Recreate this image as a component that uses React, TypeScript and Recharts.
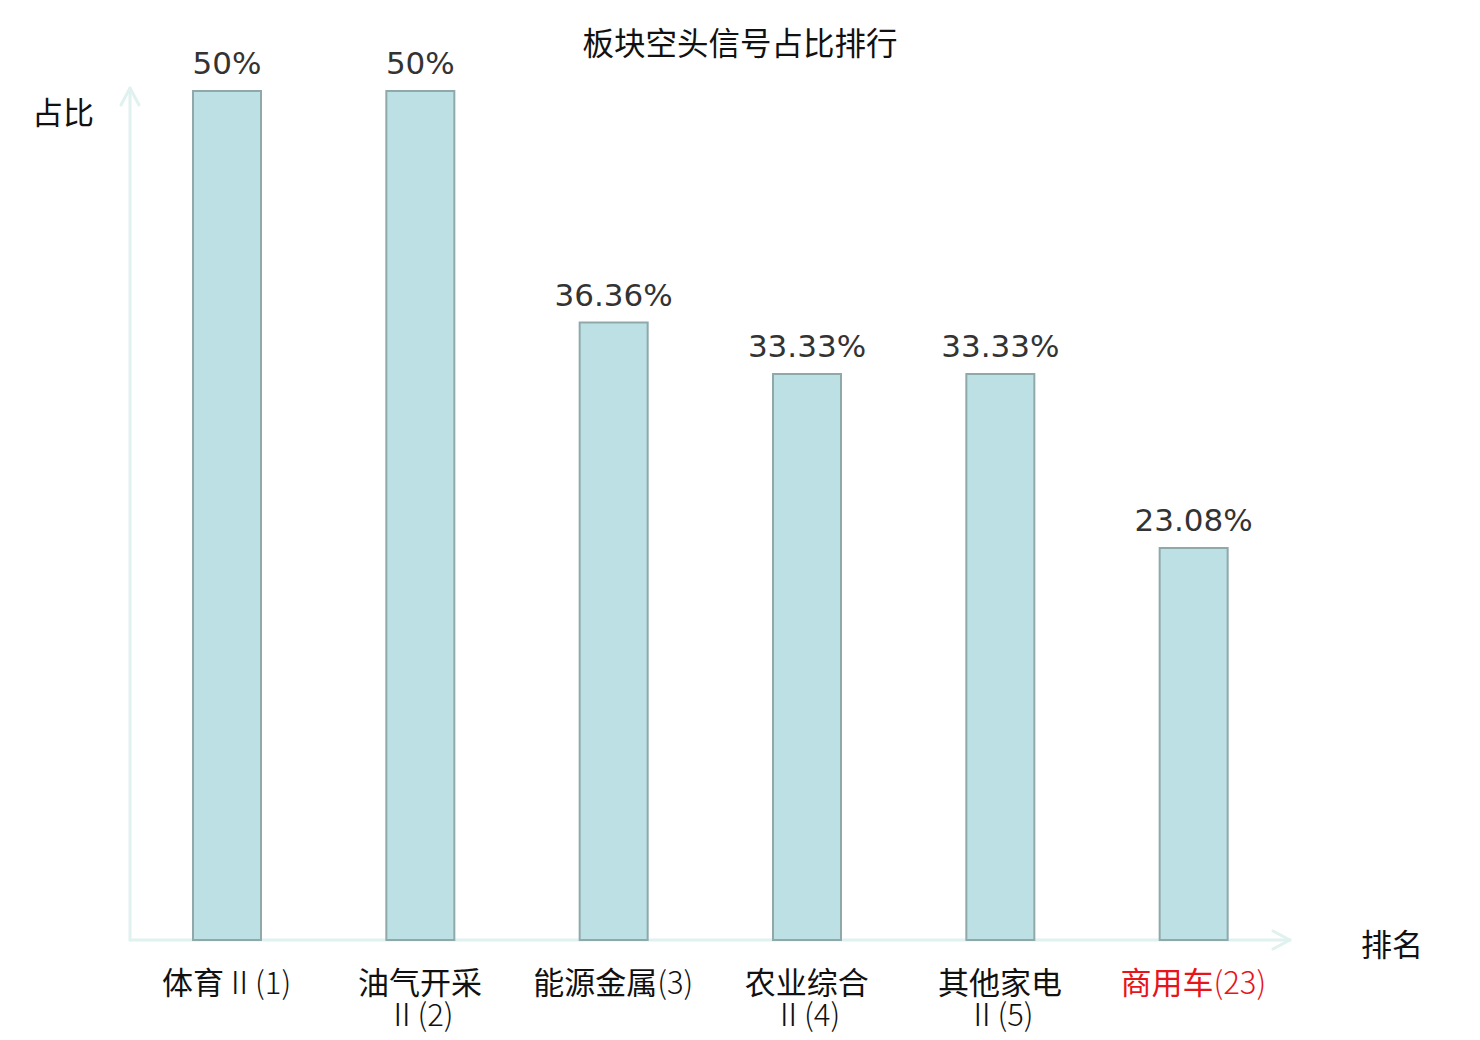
import { BarChart, Bar, XAxis, YAxis, LabelList, usePlotArea } from 'recharts';

const categories = ['体育Ⅱ(1)', '油气开采Ⅱ(2)', '能源金属(3)', '农业综合Ⅱ(4)', '其他家电Ⅱ(5)', '商用车(23)'];
const ratios = [50, 50, 36.36, 33.33, 33.33, 23.08];
const highlight = '商用车(23)';

const data = categories.map((name, i) => ({ name, ratio: ratios[i] }));

const AXIS_COLOR = '#dff2ef';
const CJK = '"Noto Sans CJK SC", "Noto Sans", sans-serif';

const Axes = () => {
  const plot = usePlotArea();
  if (!plot) return null;
  const left = plot.x;
  const bottom = plot.y + plot.height;
  const right = plot.x + plot.width;
  const top = plot.y - 3;
  return (
    <g fill="none" stroke={AXIS_COLOR} strokeWidth={3} strokeLinecap="round" strokeLinejoin="round">
      <line x1={left} y1={bottom} x2={left} y2={top} />
      <polyline points={`${left - 9},${top + 17} ${left},${top} ${left + 9},${top + 17}`} />
      <line x1={left} y1={bottom} x2={right} y2={bottom} />
      <polyline points={`${right - 17},${bottom - 9} ${right},${bottom} ${right - 17},${bottom + 9}`} />
    </g>
  );
};

// split a label into its CJK part and the thin "Ⅱ(n)" tail
const splitTail = (s: string) => {
  const m = s.match(/^([^Ⅱ(]*)(.*)$/);
  return m ? [m[1], m[2]] : [s, ''];
};

const CategoryTick = (props: any) => {
  const { x, y, payload } = props;
  const label: string = payload.value;
  const lines = label.length > 7 ? [label.slice(0, 4), label.slice(4)] : [label];
  const color = label === highlight ? '#e8141b' : '#111';
  return (
    <text x={x} y={y + 46} textAnchor="middle" fill={color} fontSize={31} fontFamily={CJK}>
      {lines.map((line, i) => {
        const [head, tail] = splitTail(line);
        return (
          <tspan key={i} x={x} dy={i === 0 ? 0 : 32}>
            {head}
            <tspan fontWeight={300}>{tail}</tspan>
          </tspan>
        );
      })}
    </text>
  );
};

const App = () => {
  return (
    <div style={{ position: 'absolute', left: 0, top: 0, width: 1480, height: 1040, background: '#fff' }}>
      <BarChart
        width={1480}
        height={1040}
        data={data}
        margin={{ top: 91, right: 190, bottom: 0, left: 130 }}
        barCategoryGap={0}
      >
        <Axes />
        <XAxis dataKey="name" axisLine={false} tickLine={false} height={100} interval={0} tick={<CategoryTick />} />
        <YAxis hide domain={[0, 50]} />
        <Bar dataKey="ratio" barSize={68} fill="#bce0e3" stroke="#8fa9ab" strokeWidth={2} isAnimationActive={false}>
          <LabelList
            dataKey="ratio"
            position="top"
            offset={17}
            formatter={(v: any) => `${v}%`}
            fill="#333"
            fontSize={31}
            fontFamily='"DejaVu Sans", sans-serif'
          />
        </Bar>
        <text x={740} y={41} textAnchor="middle" dominantBaseline="central" fontSize={31.5} fontFamily={CJK} fill="#111">
          板块空头信号占比排行
        </text>
        <text x={63} y={110} textAnchor="middle" dominantBaseline="central" fontSize={31} fontFamily={CJK} fill="#111">
          占比
        </text>
        <text x={1392} y={942} textAnchor="middle" dominantBaseline="central" fontSize={31} fontFamily={CJK} fill="#111">
          排名
        </text>
      </BarChart>
    </div>
  );
};

export default App;
